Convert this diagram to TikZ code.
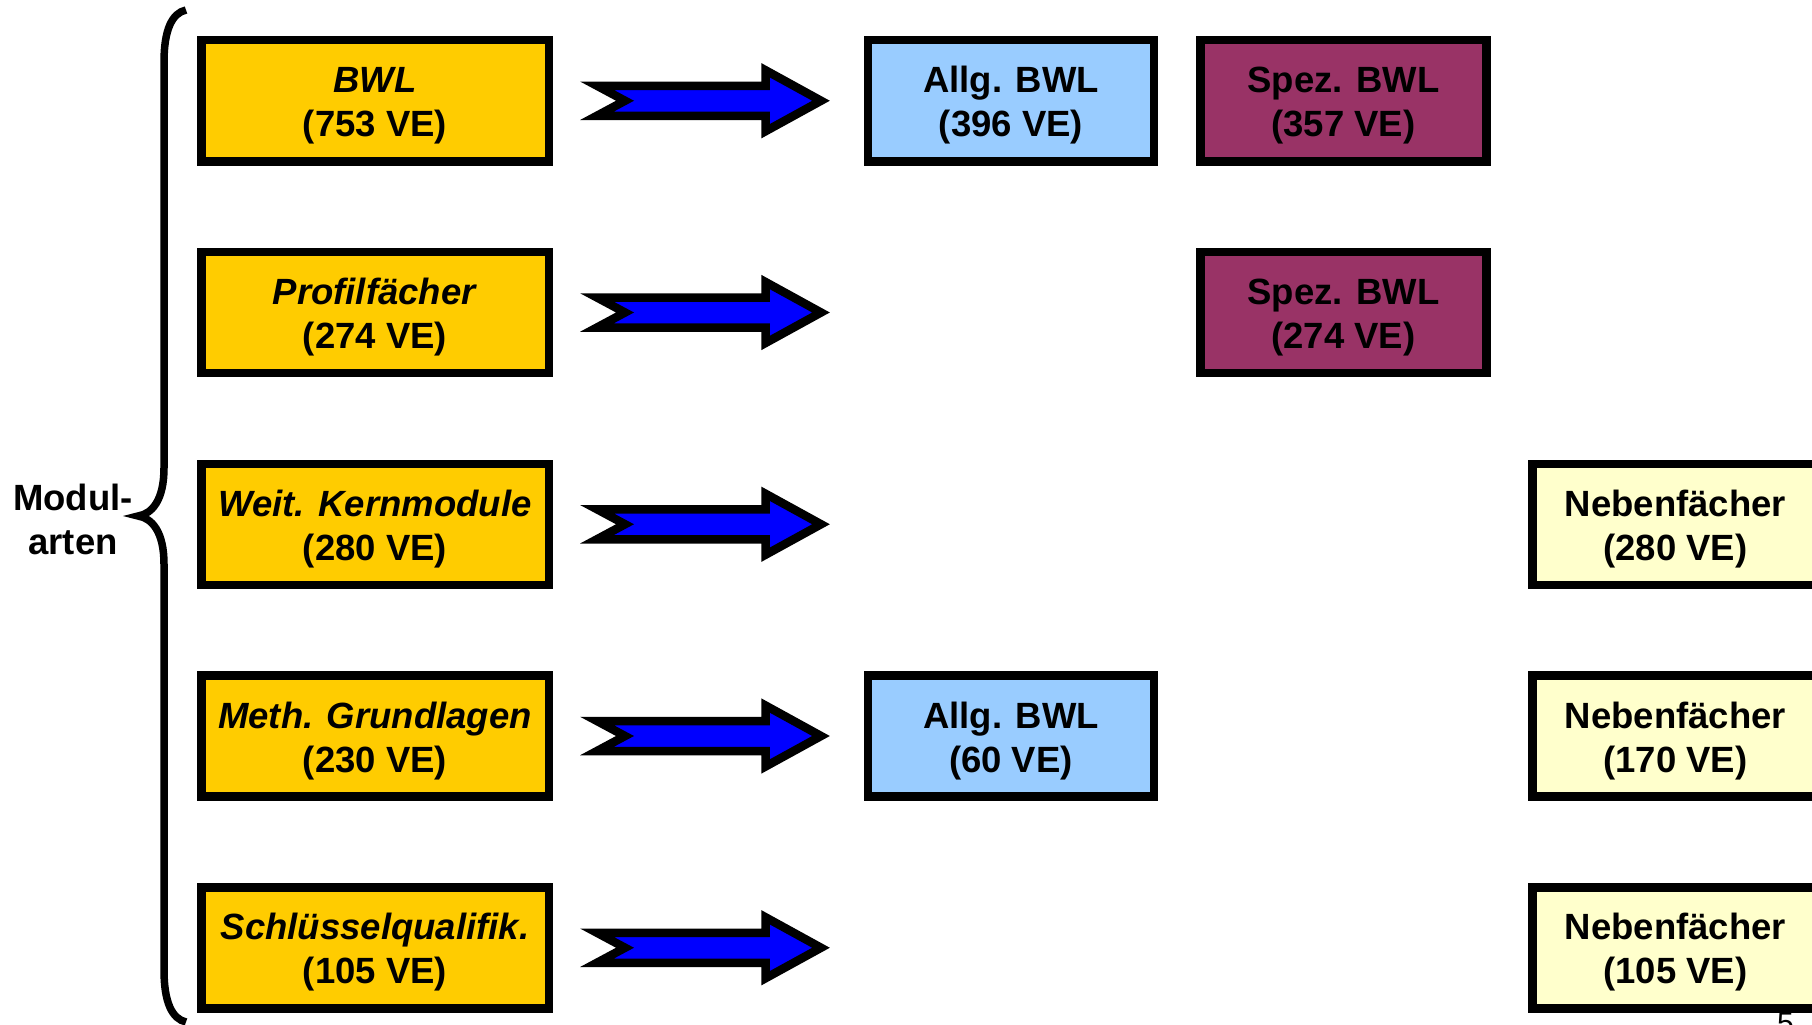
\documentclass[tikz,border=0pt]{standalone}
\usepackage{fontspec}
\setmainfont{Liberation Sans}
\usetikzlibrary{calc}
\definecolor{gold}{HTML}{FFCC00}
\definecolor{lblue}{HTML}{99CCFF}
\definecolor{plum}{HTML}{993366}
\definecolor{lyellow}{HTML}{FFFFCC}
\definecolor{arrowblue}{HTML}{0000FF}
\newcommand\blockarrow[1]{%
  \draw[barrow] ($(#1.east)+(44,-15)$) -- ++(168.5,0) -- ++(0,-15.5) -- ++(55.5,30.5)
    -- ++(-55.5,30.5) -- ++(0,-15.5) -- ++(-168.5,0) -- ++(28,-15) -- cycle;}
\newcommand\toplift{\rule{0pt}{36pt}}
\begin{document}
\begin{tikzpicture}[x=1pt,y=-1pt,
  txt/.style={font=\bfseries\fontsize{36.5}{44}\selectfont, align=center},
  box/.style={txt, draw=black, line width=8.5pt, minimum height=121pt, inner sep=0pt},
  modbox/.style={box, fill=gold, minimum width=347.5pt},
  allgbox/.style={box, fill=lblue, minimum width=286pt},
  spezbox/.style={box, fill=plum, minimum width=286pt},
  nebenbox/.style={box, fill=lyellow, minimum width=286pt},
  barrow/.style={draw=black, fill=arrowblue, line width=8.5pt, line join=miter}]
\useasboundingbox (0,0) rectangle (1812,1025);
\fill[white] (0,0) rectangle (1812,1025);

% module boxes
\node[modbox] (m1) at (375,100.75) {\toplift\textit{BWL}\\(753 VE)};
\node[modbox] (m2) at (375,312.5)  {\toplift\textit{Profilfächer}\\(274 VE)};
\node[modbox] (m3) at (375,524.25) {\toplift\textit{Weit. Kernmodule}\\(280 VE)};
\node[modbox] (m4) at (375,736)    {\toplift\textit{Meth. Grundlagen}\\(230 VE)};
\node[modbox] (m5) at (375,947.75) {\toplift\textit{Schlüsselqualifik.}\\(105 VE)};

% arrows
\blockarrow{m1}
\blockarrow{m2}
\blockarrow{m3}
\blockarrow{m4}
\blockarrow{m5}

% target boxes
\node[allgbox] (a1) at (1011,100.75) {\toplift Allg. BWL\\(396 VE)};
\node[spezbox] (s1) at (1343.5,100.75) {\toplift Spez. BWL\\(357 VE)};
\node[spezbox] (s2) at (1343.5,312.5) {\toplift Spez. BWL\\(274 VE)};
\node[nebenbox] (n3) at (1675.5,524.25) {\toplift Nebenfächer\\(280 VE)};
\node[allgbox] (a4) at (1011,736) {\toplift Allg. BWL\\(60 VE)};
\node[nebenbox] (n4) at (1675.5,736) {\toplift Nebenfächer\\(170 VE)};
\node[nebenbox] (n5) at (1675.5,947.75) {\toplift Nebenfächer\\(105 VE)};

% brace and label
\draw[line width=7.5pt, line cap=butt] (186,10) .. controls (172,13) and (164,30) .. (164,62)
  -- (164,468) .. controls (164,500) and (152,514) .. (138,516)
  .. controls (152,518) and (164,532) .. (164,564)
  -- (164,970) .. controls (164,1002) and (172,1019) .. (186,1022);
\node[txt, inner sep=0pt] (lab) at (73,519) {Modul-\\arten};

% page number (cut off at the bottom)
\node[font=\fontsize{30}{34}\selectfont, anchor=base west, inner sep=0pt] (pg) at (1777,1033.5) {5};
\end{tikzpicture}
\end{document}
